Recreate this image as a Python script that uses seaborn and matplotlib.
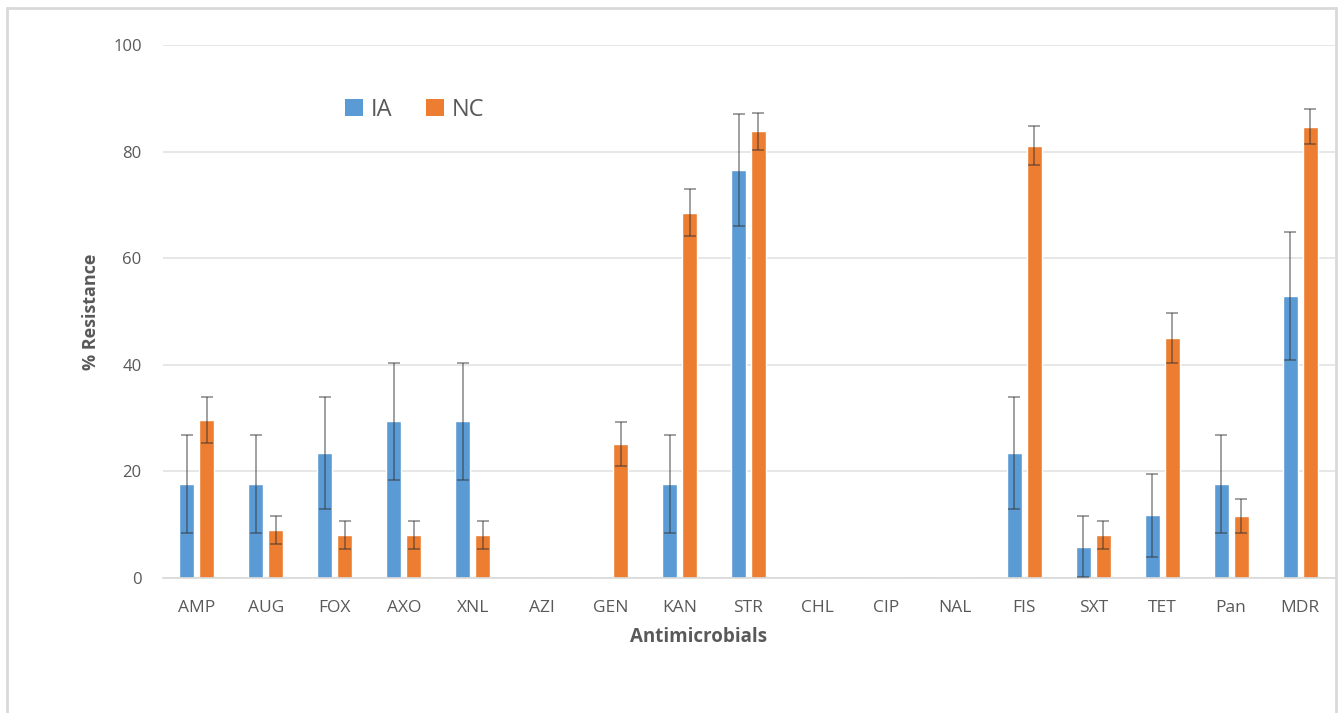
import numpy as np
import pandas as pd
import seaborn as sns
import matplotlib
matplotlib.use("Agg")
import matplotlib.pyplot as plt
from matplotlib.lines import Line2D
from matplotlib.patches import Patch

# Antimicrobial resistance by state
antimicrobials = ["AMP", "AUG", "FOX", "AXO", "XNL", "AZI", "GEN", "KAN", "STR",
                  "CHL", "CIP", "NAL", "FIS", "SXT", "TET", "Pan", "MDR"]
ia_pct = [17.6, 17.6, 23.5, 29.4, 29.4, 0, 0, 17.6, 76.5, 0, 0, 0, 23.5, 5.9, 11.8, 17.6, 52.9]
ia_err = [9.2, 9.2, 10.5, 11.0, 11.0, 0, 0, 9.2, 10.5, 0, 0, 0, 10.5, 5.7, 7.8, 9.2, 12.0]
nc_pct = [29.7, 9.0, 8.1, 8.1, 8.1, 0, 25.2, 68.5, 83.8, 0, 0, 0, 81.1, 8.1, 45.0, 11.7, 84.7]
nc_err = [4.3, 2.7, 2.6, 2.6, 2.6, 0, 4.1, 4.4, 3.5, 0, 0, 0, 3.7, 2.6, 4.7, 3.2, 3.2]
groups = ["IA", "NC"]
yticks = [0, 20, 40, 60, 80, 100]

colors = {"IA": "#5B9BD5", "NC": "#ED7D31"}
text_gray = "#595959"

df = pd.DataFrame({
    "Antimicrobial": antimicrobials * 2,
    "Group": ["IA"] * len(antimicrobials) + ["NC"] * len(antimicrobials),
    "Resistance": ia_pct + nc_pct,
    "Err": ia_err + nc_err,
})

sns.set_theme(style="white")
plt.rcParams["font.family"] = ["Open Sans", "DejaVu Sans"]

fig = plt.figure(figsize=(13.39, 7.13), dpi=100)
ax = fig.add_axes([162.5 / 1339, 1 - 578 / 713, 1172 / 1339, 533 / 713])

sns.barplot(data=df, x="Antimicrobial", y="Resistance", hue="Group",
            order=antimicrobials, hue_order=groups, palette=colors, saturation=1,
            width=0.58, gap=0.25, errorbar=None, legend=False, ax=ax)

# error bars placed on the bar centres
for container, grp in zip(ax.containers, groups):
    sub = df[df["Group"] == grp].set_index("Antimicrobial").loc[antimicrobials]
    xs = np.array([p.get_x() + p.get_width() / 2 for p in container.patches])
    mask = sub["Resistance"].values > 0
    ax.errorbar(xs[mask], sub["Resistance"].values[mask], yerr=sub["Err"].values[mask],
                fmt="none", ecolor="#333333", alpha=0.5, elinewidth=1.3,
                capsize=4, capthick=1.3, zorder=5)

ax.set_ylim(0, 100)
ax.set_xlim(-0.5, len(antimicrobials) - 0.5)
ax.set_yticks(yticks)
ax.yaxis.grid(True, color="#e3e3e3", linewidth=1.2)
ax.set_axisbelow(True)
for s in ["top", "right", "left"]:
    ax.spines[s].set_visible(False)
ax.spines["bottom"].set_color("#d9d9d9")
ax.spines["bottom"].set_linewidth(1.2)

ax.tick_params(axis="x", length=0, pad=16, labelsize=12.5, labelcolor=text_gray)
ax.tick_params(axis="y", length=0, pad=15, labelsize=12, labelcolor=text_gray)

ax.set_xlabel("Antimicrobials", fontsize=13.5, fontweight="bold", color=text_gray)
ax.xaxis.set_label_coords((699 - 162.5) / 1172, -0.092)
ax.set_ylabel("% Resistance", fontsize=13, fontweight="bold", color=text_gray)
ax.yaxis.set_label_coords(-0.053, 0.5)

handles = [Patch(facecolor=colors[g], edgecolor="none") for g in groups]
fig.legend(handles, groups, loc="center left", bbox_to_anchor=(324 / 1339, 1 - 110 / 713),
           ncol=2, frameon=False, fontsize=17, handlelength=0.75, handleheight=0.75,
           handletextpad=0.35, columnspacing=1.4, labelcolor=text_gray)

# light chart-area frame
frame_kw = dict(color="#d9d9d9", linewidth=2, transform=fig.transFigure)
fig.add_artist(Line2D([7 / 1339, 7 / 1339], [0, 1 - 8 / 713], **frame_kw))
fig.add_artist(Line2D([7 / 1339, 1336 / 1339], [1 - 8 / 713, 1 - 8 / 713], **frame_kw))
fig.add_artist(Line2D([1336 / 1339, 1336 / 1339], [0, 1 - 8 / 713], **frame_kw))

fig.savefig("out.png", dpi=100, facecolor="white")
